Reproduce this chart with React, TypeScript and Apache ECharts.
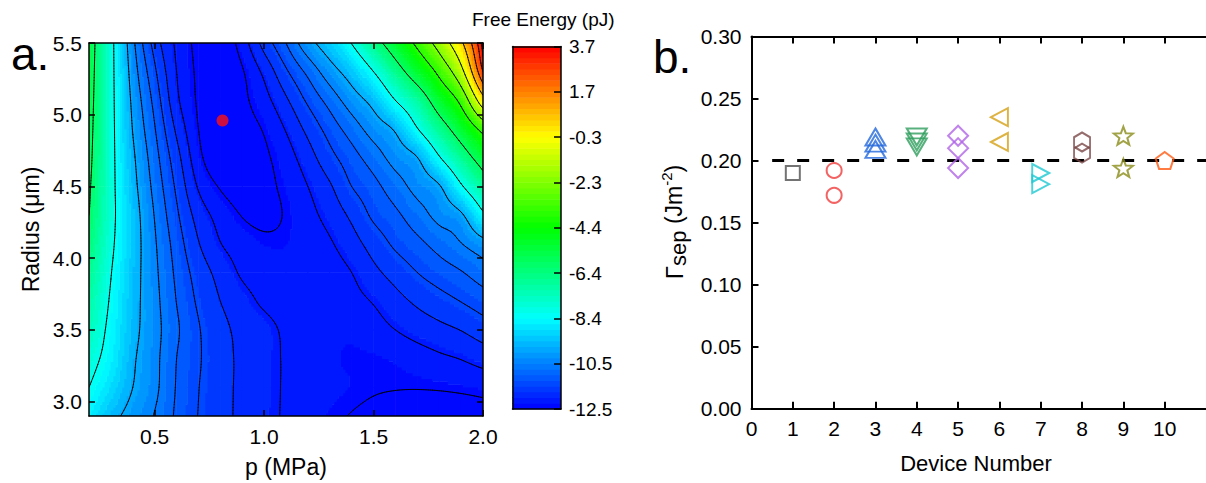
import React, { useEffect, useRef } from "react";
import * as echarts from "echarts";

const FONT = "'Liberation Sans', Arial, Helvetica, sans-serif";

// ---------------- Panel a: free-energy map ----------------
const pressureValues = [0.2, 0.3, 0.4, 0.5, 0.6, 0.7, 0.8, 0.9, 1.0, 1.1, 1.2, 1.3, 1.4, 1.5, 1.6, 1.7, 1.8, 1.9, 2.0];
const radiusValues = [2.9, 3.1, 3.3, 3.5, 3.7, 3.9, 4.1, 4.3, 4.5, 4.7, 4.9, 5.1, 5.3, 5.5];

// Free energy (pJ) estimated along each radius row, for p = 0.2 ... 2.0 MPa
const energyAtR29 = [-8.68, -9.52, -10.09, -10.53, -11.07, -11.41, -11.63, -11.83, -11.97, -12.08, -12.18, -12.26, -12.31, -12.36, -12.4, -12.43, -12.44, -12.43, -12.4];
const energyAtR31 = [-8.2, -8.99, -9.8, -10.37, -11.03, -11.39, -11.63, -11.82, -11.95, -12.08, -12.17, -12.22, -12.25, -12.28, -12.29, -12.29, -12.28, -12.26, -12.23];
const energyAtR33 = [-7.8, -8.64, -9.68, -10.34, -11.0, -11.36, -11.62, -11.82, -11.95, -12.08, -12.18, -12.23, -12.26, -12.26, -12.23, -12.17, -12.1, -12.04, -11.94];
const energyAtR35 = [-7.37, -8.48, -9.54, -10.29, -10.93, -11.37, -11.65, -11.84, -11.95, -12.1, -12.18, -12.22, -12.22, -12.15, -12.05, -11.94, -11.84, -11.74, -11.58];
const energyAtR37 = [-7.03, -8.32, -9.48, -10.32, -11.01, -11.46, -11.75, -11.94, -12.1, -12.19, -12.21, -12.2, -12.13, -12.03, -11.86, -11.69, -11.54, -11.39, -11.21];
const energyAtR39 = [-6.7, -8.16, -9.42, -10.37, -11.09, -11.56, -11.86, -12.09, -12.18, -12.21, -12.21, -12.16, -12.05, -11.83, -11.62, -11.4, -11.21, -11.03, -10.75];
const energyAtR41 = [-6.34, -7.97, -9.36, -10.43, -11.19, -11.73, -12.04, -12.17, -12.25, -12.25, -12.18, -12.08, -11.88, -11.61, -11.33, -11.11, -10.83, -10.52, -10.09];
const energyAtR43 = [-6.0, -7.85, -9.38, -10.53, -11.33, -11.88, -12.15, -12.31, -12.36, -12.28, -12.13, -11.95, -11.68, -11.33, -11.09, -10.73, -10.32, -9.93, -8.42];
const energyAtR45 = [-5.85, -7.85, -9.52, -10.67, -11.47, -12.08, -12.32, -12.4, -12.36, -12.24, -12.05, -11.79, -11.4, -11.13, -10.74, -10.3, -9.88, -8.35, -6.84];
const energyAtR47 = [-5.7, -7.85, -9.65, -10.81, -11.62, -12.23, -12.43, -12.42, -12.34, -12.17, -11.89, -11.52, -11.17, -10.77, -10.27, -9.82, -8.3, -6.79, -5.28];
const energyAtR49 = [-5.6, -7.85, -9.83, -10.97, -11.81, -12.3, -12.45, -12.38, -12.28, -12.03, -11.66, -11.24, -10.78, -10.23, -9.68, -8.26, -6.75, -5.21, -3.48];
const energyAtR51 = [-5.5, -7.86, -9.97, -11.14, -11.98, -12.33, -12.46, -12.35, -12.15, -11.8, -11.33, -10.82, -10.18, -9.49, -8.2, -6.95, -5.18, -3.51, -0.06];
const energyAtR53 = [-5.4, -7.86, -10.15, -11.33, -12.05, -12.34, -12.45, -12.32, -11.98, -11.46, -10.88, -10.15, -9.36, -8.2, -6.66, -5.14, -3.57, -1.43, 2.8];
const energyAtR55 = [-5.3, -7.86, -10.34, -11.55, -12.1, -12.36, -12.44, -12.19, -11.62, -11.0, -10.09, -9.26, -8.16, -6.62, -5.11, -3.59, -1.93, 0.25, 3.7];
const energyGrid = [
  energyAtR29, energyAtR31, energyAtR33, energyAtR35, energyAtR37, energyAtR39, energyAtR41,
  energyAtR43, energyAtR45, energyAtR47, energyAtR49, energyAtR51, energyAtR53, energyAtR55,
];

const contourLevels = [-12.3, -12.05, -11.75, -11.4, -11.0, -10.5, -9.8, -8.2, -6.0, -3.9, -2.5, -1.0, 0.5, 1.8, 2.8, 3.4];
const energyMin = -12.5;
const energyMax = 3.7;
const colorbarTickValues = [-12.5, -10.475, -8.45, -6.425, -4.4, -2.375, -0.35, 1.675, 3.7];
const colorbarTickLabels = ["-12.5", "-10.5", "-8.4", "-6.4", "-4.4", "-2.3", "-0.3", "1.7", "3.7"];
const pressureTicks = [0.5, 1.0, 1.5, 2.0];
const radiusTicks = [3.0, 3.5, 4.0, 4.5, 5.0, 5.5];
const optimumPoint = [[0.81, 4.96]];

// ---------------- Panel b: separation energy per device ----------------
const deviceTicks = [0, 1, 2, 3, 4, 5, 6, 7, 8, 9, 10];
const referenceGamma = 0.2;
const referenceSpan = [0.5, 11];
const gammaDevice1 = [0.19];
const gammaDevice2 = [0.192, 0.172];
const gammaDevice3 = [0.219, 0.214, 0.209];
const gammaDevice4 = [0.219, 0.215, 0.211];
const gammaDevice5 = [0.22, 0.21, 0.194];
const gammaDevice6 = [0.235, 0.215];
const gammaDevice7 = [0.19, 0.181];
const gammaDevice8 = [0.215, 0.206];
const gammaDevice9 = [0.22, 0.194];
const gammaDevice10 = [0.2];
const gammaByDevice = [gammaDevice1, gammaDevice2, gammaDevice3, gammaDevice4, gammaDevice5, gammaDevice6, gammaDevice7, gammaDevice8, gammaDevice9, gammaDevice10];

// ---------------- styling helpers ----------------
const colorStops = [
  [0, 0, 255],
  [0, 255, 255],
  [0, 255, 0],
  [255, 255, 0],
  [255, 0, 0],
];
const bandCount = 64;
const SUB = 10;

function jet(t: number) {
  const tt = Math.max(0, Math.min(1, t));
  const s = tt * (colorStops.length - 1);
  const i = Math.min(Math.floor(s), colorStops.length - 2);
  const f = s - i;
  const a = colorStops[i];
  const b = colorStops[i + 1];
  const c = a.map((v, k) => Math.round(v + (b[k] - v) * f));
  return `rgb(${c[0]},${c[1]},${c[2]})`;
}
const bandColors = Array.from({ length: bandCount }, (_, k) => jet((k + 0.5) / bandCount));
function bandOf(v: number) {
  const k = Math.floor(((v - energyMin) / (energyMax - energyMin)) * bandCount);
  return Math.max(0, Math.min(bandCount - 1, k));
}

function gridValue(i: number, j: number): number {
  const nx = pressureValues.length;
  const ny = radiusValues.length;
  if (i < 0) return 2 * gridValue(0, j) - gridValue(1, j);
  if (i > nx - 1) return 2 * gridValue(nx - 1, j) - gridValue(nx - 2, j);
  if (j < 0) return 2 * gridValue(i, 0) - gridValue(i, 1);
  if (j > ny - 1) return 2 * gridValue(i, ny - 1) - gridValue(i, ny - 2);
  return energyGrid[j][i];
}
function cr(p0: number, p1: number, p2: number, p3: number, t: number) {
  const t2 = t * t;
  const t3 = t2 * t;
  return 0.5 * (2 * p1 + (-p0 + p2) * t + (2 * p0 - 5 * p1 + 4 * p2 - p3) * t2 + (-p0 + 3 * p1 - 3 * p2 + p3) * t3);
}
function sampleField(i: number, j: number, tu: number, tv: number) {
  const rows: number[] = [];
  for (let m = -1; m <= 2; m++) {
    rows.push(cr(gridValue(i - 1, j + m), gridValue(i, j + m), gridValue(i + 1, j + m), gridValue(i + 2, j + m), tu));
  }
  return cr(rows[0], rows[1], rows[2], rows[3], tv);
}

echarts.graphic.registerShape(
  "rectBatch",
  echarts.graphic.extendShape({
    shape: { rects: [] as number[] },
    buildPath(ctx: any, shape: any) {
      const r = shape.rects;
      for (let k = 0; k < r.length; k += 4) {
        const x = r[k], y = r[k + 1], w = r[k + 2], h = r[k + 3];
        ctx.moveTo(x, y);
        ctx.lineTo(x + w, y);
        ctx.lineTo(x + w, y + h);
        ctx.lineTo(x, y + h);
        ctx.closePath();
      }
    },
  })
);
echarts.graphic.registerShape(
  "segmentBatch",
  echarts.graphic.extendShape({
    shape: { segs: [] as number[] },
    buildPath(ctx: any, shape: any) {
      const s = shape.segs;
      for (let k = 0; k < s.length; k += 4) {
        ctx.moveTo(s[k], s[k + 1]);
        ctx.lineTo(s[k + 2], s[k + 3]);
      }
    },
  })
);

function addContour(segs: number[], x0: number, x1: number, y0: number, y1: number, v00: number, v10: number, v01: number, v11: number, level: number) {
  const up = (v: number) => v >= level;
  let bottom: number[] | null = null, right: number[] | null = null, top: number[] | null = null, left: number[] | null = null;
  if (up(v00) !== up(v10)) { const t = (level - v00) / (v10 - v00); bottom = [x0 + (x1 - x0) * t, y0]; }
  if (up(v10) !== up(v11)) { const t = (level - v10) / (v11 - v10); right = [x1, y0 + (y1 - y0) * t]; }
  if (up(v01) !== up(v11)) { const t = (level - v01) / (v11 - v01); top = [x0 + (x1 - x0) * t, y1]; }
  if (up(v00) !== up(v01)) { const t = (level - v00) / (v01 - v00); left = [x0, y0 + (y1 - y0) * t]; }
  const pts = [bottom, right, top, left].filter(Boolean) as number[][];
  if (pts.length === 2) {
    segs.push(pts[0][0], pts[0][1], pts[1][0], pts[1][1]);
  } else if (pts.length === 4 && bottom && right && top && left) {
    const c = (v00 + v10 + v01 + v11) / 4;
    if (up(c) === up(v00)) {
      segs.push(bottom[0], bottom[1], right[0], right[1]);
      segs.push(top[0], top[1], left[0], left[1]);
    } else {
      segs.push(bottom[0], bottom[1], left[0], left[1]);
      segs.push(right[0], right[1], top[0], top[1]);
    }
  }
}

const fieldCells: number[][] = [];
for (let j = 0; j < radiusValues.length - 1; j++) {
  for (let i = 0; i < pressureValues.length - 1; i++) {
    fieldCells.push([pressureValues[i], radiusValues[j], energyGrid[j][i], i, j]);
  }
}

function renderFieldCell(_params: any, api: any) {
  const i = api.value(3) as number;
  const j = api.value(4) as number;
  const p0 = pressureValues[i], p1 = pressureValues[i + 1];
  const r0 = radiusValues[j], r1 = radiusValues[j + 1];
  const xs: number[] = [];
  const ys: number[] = [];
  for (let a = 0; a <= SUB; a++) xs.push(api.coord([p0 + ((p1 - p0) * a) / SUB, r0])[0]);
  for (let b = 0; b <= SUB; b++) ys.push(api.coord([p0, r0 + ((r1 - r0) * b) / SUB])[1]);
  const vals: number[][] = [];
  for (let b = 0; b <= SUB; b++) {
    const row: number[] = [];
    for (let a = 0; a <= SUB; a++) row.push(sampleField(i, j, a / SUB, b / SUB));
    vals.push(row);
  }
  const rectsByBand: Record<number, number[]> = {};
  for (let b = 0; b < SUB; b++) {
    const avg = (a: number) => (vals[b][a] + vals[b][a + 1] + vals[b + 1][a] + vals[b + 1][a + 1]) / 4;
    let start = 0;
    let band = bandOf(avg(0));
    for (let a = 1; a <= SUB; a++) {
      const nb = a < SUB ? bandOf(avg(a)) : -1;
      if (nb !== band) {
        const arr = rectsByBand[band] || (rectsByBand[band] = []);
        arr.push(xs[start] - 0.3, ys[b + 1] - 0.3, xs[a] - xs[start] + 0.6, ys[b] - ys[b + 1] + 0.6);
        start = a;
        band = nb;
      }
    }
  }
  const children: any[] = [];
  Object.keys(rectsByBand).forEach((k) => {
    children.push({
      type: "rectBatch",
      shape: { rects: rectsByBand[Number(k)] },
      style: { fill: bandColors[Number(k)] },
      silent: true,
    });
  });
  const segs: number[] = [];
  for (let b = 0; b < SUB; b++) {
    for (let a = 0; a < SUB; a++) {
      for (const L of contourLevels) {
        addContour(segs, xs[a], xs[a + 1], ys[b], ys[b + 1], vals[b][a], vals[b][a + 1], vals[b + 1][a], vals[b + 1][a + 1], L);
      }
    }
  }
  children.push({
    type: "segmentBatch",
    shape: { segs },
    style: { fill: "none", stroke: "#000", lineWidth: 0.9, lineCap: "round" },
    silent: true,
    z2: 10,
  });
  return { type: "group", children };
}

const colorbarBands = Array.from({ length: bandCount }, (_, k) => [k]);
function renderColorbarBand(_params: any, api: any) {
  const k = api.value(0) as number;
  const step = (energyMax - energyMin) / bandCount;
  const lo = energyMin + k * step;
  const hi = lo + step;
  const a = api.coord([0, hi]);
  const b = api.coord([1, lo]);
  return {
    type: "rect",
    shape: { x: a[0], y: a[1] - 0.3, width: b[0] - a[0], height: b[1] - a[1] + 0.6 },
    style: { fill: bandColors[k] },
    silent: true,
  };
}

const hexagonPath = "path://M0,-10L8.66,-5L8.66,5L0,10L-8.66,5L-8.66,-5Z";
const starPath = "path://M0,-10L2.47,-3.4L9.51,-3.09L3.99,1.3L5.88,8.09L0,4.2L-5.88,8.09L-3.99,1.3L-9.51,-3.09L-2.47,-3.4Z";
const pentagonPath = "path://M0,-10L9.51,-3.09L5.88,8.09L-5.88,8.09L-9.51,-3.09Z";
const markerStyles = [
  { symbol: "rect", size: [14, 14], rotate: 0, color: "#505050" },
  { symbol: "circle", size: [15, 15], rotate: 0, color: "#f03c3c" },
  { symbol: "triangle", size: [20, 17], rotate: 0, color: "#2368dc" },
  { symbol: "triangle", size: [20, 17], rotate: 180, color: "#2e9d5c" },
  { symbol: "diamond", size: [20, 20], rotate: 0, color: "#b064e6" },
  { symbol: "triangle", size: [18, 17], rotate: 90, color: "#d4a015" },
  { symbol: "triangle", size: [18, 17], rotate: -90, color: "#1ec8d2" },
  { symbol: hexagonPath, size: [16, 19], rotate: 0, color: "#7a4848" },
  { symbol: starPath, size: [19, 18], rotate: 0, color: "#8a8c18" },
  { symbol: pentagonPath, size: [18, 17], rotate: 0, color: "#ff5a12" },
];

const axisBlack = { color: "#000" };
const labelFont = (size: number) => ({ color: "#000", fontFamily: FONT, fontSize: size });
const frameLine = (w: number) => ({ onZero: false, lineStyle: { ...axisBlack, width: w } });

function buildOption(): any {
  const deviceSeries = gammaByDevice.map((vals, idx) => {
    const st = markerStyles[idx];
    return {
      type: "scatter",
      xAxisIndex: 4,
      yAxisIndex: 4,
      data: vals.map((v) => [idx + 1, v]),
      symbol: st.symbol,
      symbolSize: st.size,
      symbolRotate: st.rotate,
      itemStyle: { color: "rgba(255,255,255,0)", borderColor: st.color, borderWidth: 2 },
      z: 4,
      silent: true,
    };
  });

  return {
    animation: false,
    backgroundColor: "#ffffff",
    textStyle: { fontFamily: FONT },
    grid: [
      { left: 89, top: 43, width: 394, height: 376 },
      { left: 512.5, top: 46.5, width: 48.5, height: 362.5 },
      { left: 751.5, top: 36.5, width: 487.3, height: 372.2 },
    ],
    xAxis: [
      {
        gridIndex: 0, type: "value", min: 0.2, max: 2.0, position: "bottom", z: 5,
        axisLine: frameLine(1.5),
        axisTick: { inside: true, length: 6, customValues: pressureTicks, lineStyle: { ...axisBlack, width: 1.5 } },
        axisLabel: { customValues: pressureTicks, formatter: (v: number) => v.toFixed(1), margin: 10, ...labelFont(21) },
        splitLine: { show: false },
        name: "p (MPa)", nameLocation: "middle", nameGap: 39,
        nameTextStyle: { ...labelFont(23) },
      },
      {
        gridIndex: 0, type: "value", min: 0.2, max: 2.0, position: "top", z: 5,
        axisLine: frameLine(1.5),
        axisTick: { inside: true, length: 6, customValues: pressureTicks, lineStyle: { ...axisBlack, width: 1.5 } },
        axisLabel: { show: false },
        splitLine: { show: false },
      },
      {
        gridIndex: 1, type: "value", min: 0, max: 1, position: "bottom", z: 5,
        axisLine: frameLine(1.5),
        axisTick: { show: false }, axisLabel: { show: false }, splitLine: { show: false },
      },
      {
        gridIndex: 1, type: "value", min: 0, max: 1, position: "top", z: 5,
        axisLine: frameLine(1.5),
        axisTick: { show: false }, axisLabel: { show: false }, splitLine: { show: false },
      },
      {
        gridIndex: 2, type: "value", min: 0, max: 11, position: "bottom", z: 5,
        axisLine: frameLine(2),
        axisTick: { inside: true, length: 7, customValues: deviceTicks, lineStyle: { ...axisBlack, width: 2 } },
        axisLabel: { customValues: deviceTicks, formatter: (v: number) => String(Math.round(v)), margin: 9, ...labelFont(21) },
        splitLine: { show: false },
      },
      {
        gridIndex: 2, type: "value", min: 0, max: 11, position: "top", z: 5,
        axisLine: frameLine(2),
        axisTick: { inside: true, length: 7, customValues: deviceTicks.slice(1), lineStyle: { ...axisBlack, width: 2 } },
        axisLabel: { show: false },
        splitLine: { show: false },
      },
    ],
    yAxis: [
      {
        gridIndex: 0, type: "value", min: 2.9, max: 5.5, position: "left", z: 5,
        axisLine: frameLine(1.5),
        axisTick: { inside: true, length: 6, customValues: radiusTicks, lineStyle: { ...axisBlack, width: 1.5 } },
        axisLabel: { customValues: radiusTicks, formatter: (v: number) => v.toFixed(1), margin: 7, ...labelFont(21) },
        splitLine: { show: false },
        name: "Radius (\u03bcm)", nameLocation: "middle", nameGap: 47, nameRotate: 90,
        nameTextStyle: { ...labelFont(23) },
      },
      {
        gridIndex: 0, type: "value", min: 2.9, max: 5.5, position: "right", z: 5,
        axisLine: frameLine(1.5),
        axisTick: { inside: true, length: 6, customValues: radiusTicks, lineStyle: { ...axisBlack, width: 1.5 } },
        axisLabel: { show: false },
        splitLine: { show: false },
      },
      {
        gridIndex: 1, type: "value", min: energyMin, max: energyMax, position: "left", z: 5,
        axisLine: frameLine(1.5),
        axisTick: { show: false }, axisLabel: { show: false }, splitLine: { show: false },
      },
      {
        gridIndex: 1, type: "value", min: energyMin, max: energyMax, position: "right", z: 5,
        axisLine: frameLine(1.5),
        axisTick: { inside: true, length: 7, customValues: colorbarTickValues, lineStyle: { ...axisBlack, width: 1.5 } },
        axisLabel: {
          customValues: colorbarTickValues,
          formatter: (v: number) => {
            let best = 0;
            colorbarTickValues.forEach((t, k) => {
              if (Math.abs(t - v) < Math.abs(colorbarTickValues[best] - v)) best = k;
            });
            return colorbarTickLabels[best];
          },
          margin: 8,
          ...labelFont(19),
        },
        splitLine: { show: false },
      },
      {
        gridIndex: 2, type: "value", min: 0, max: 0.3, interval: 0.05, position: "left", z: 5,
        axisLine: frameLine(2),
        axisTick: { inside: true, length: 7, lineStyle: { ...axisBlack, width: 2 } },
        axisLabel: { formatter: (v: number) => v.toFixed(2), margin: 10, ...labelFont(21) },
        splitLine: { show: false },
      },
    ],
    series: [
      {
        type: "custom",
        xAxisIndex: 0,
        yAxisIndex: 0,
        data: fieldCells,
        renderItem: renderFieldCell,
        clip: true,
        silent: true,
        z: 1,
      },
      {
        type: "scatter",
        xAxisIndex: 0,
        yAxisIndex: 0,
        data: optimumPoint,
        symbol: "circle",
        symbolSize: 12,
        itemStyle: { color: "#ff1010" },
        z: 6,
        silent: true,
      },
      {
        type: "custom",
        xAxisIndex: 2,
        yAxisIndex: 2,
        data: colorbarBands,
        renderItem: renderColorbarBand,
        silent: true,
        z: 1,
      },
      {
        type: "line",
        xAxisIndex: 4,
        yAxisIndex: 4,
        data: referenceSpan.map((x) => [x, referenceGamma]),
        showSymbol: false,
        symbol: "none",
        lineStyle: { color: "#000", width: 3, type: [12, 13] },
        z: 3,
        silent: true,
      },
      ...deviceSeries,
    ],
    graphic: [
      {
        type: "text", left: 11, top: 31,
        style: { text: "a.", fontSize: 46, fontFamily: FONT, fill: "#000" },
      },
      {
        type: "text", left: 653, top: 34,
        style: { text: "b.", fontSize: 46, fontFamily: FONT, fill: "#000" },
      },
      {
        type: "text", x: 472, y: 10,
        style: { text: "Free Energy (pJ)", fontSize: 19, fontFamily: FONT, fill: "#000", verticalAlign: "top" },
      },
      {
        type: "text", x: 976, y: 452,
        style: { text: "Device Number", fontSize: 22, fontFamily: FONT, fill: "#000", align: "center", verticalAlign: "top" },
      },
      {
        type: "text", x: 674, y: 222, rotation: Math.PI / 2,
        style: {
          text: "{g|\u0393}{s|sep}{n| (Jm}{p|-2}{n|)}",
          align: "center",
          verticalAlign: "middle",
          fill: "#000",
          rich: {
            g: { fontSize: 24, fontFamily: FONT, lineHeight: 30, fill: "#000" },
            s: { fontSize: 22, fontFamily: FONT, lineHeight: 22, verticalAlign: "bottom", fill: "#000" },
            n: { fontSize: 23, fontFamily: FONT, lineHeight: 30, fill: "#000" },
            p: { fontSize: 15, fontFamily: FONT, lineHeight: 15, verticalAlign: "top", fill: "#000" },
          },
        },
      },
    ],
  };
}

export default function App() {
  const ref = useRef<HTMLDivElement>(null);
  useEffect(() => {
    if (!ref.current) return;
    const chart = echarts.init(ref.current, null, { renderer: "svg" });
    chart.setOption(buildOption());
    return () => chart.dispose();
  }, []);
  return (
    <div
      ref={ref}
      style={{ position: "fixed", left: 0, top: 0, width: 1206, height: 483, background: "#fff" }}
    />
  );
}
